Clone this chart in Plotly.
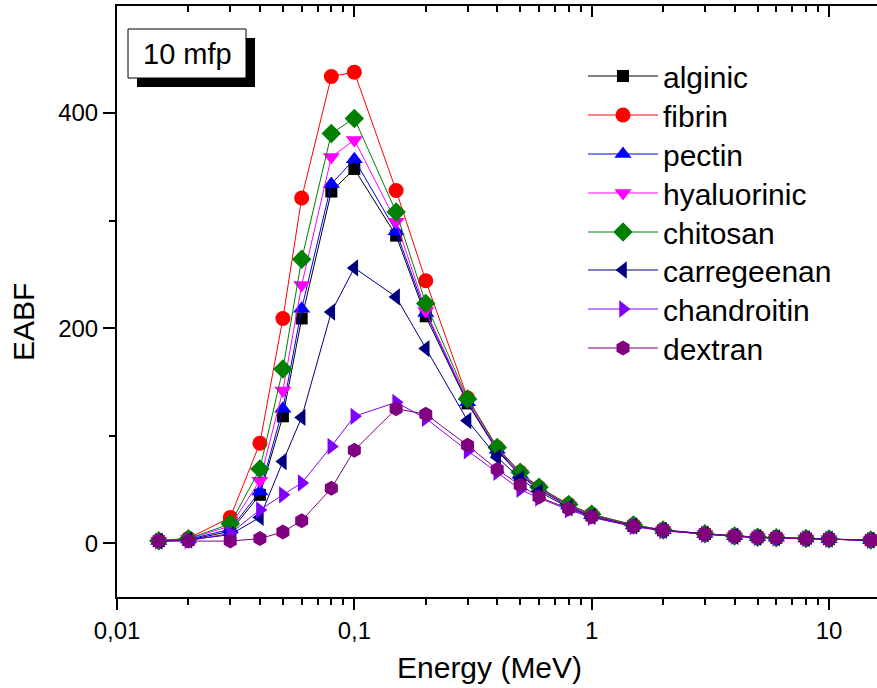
import plotly.graph_objects as go

energy = [0.015, 0.02, 0.03, 0.04, 0.05, 0.06, 0.08, 0.1, 0.15, 0.2, 0.3, 0.4, 0.5,
          0.6, 0.8, 1, 1.5, 2, 3, 4, 5, 6, 8, 10, 15]

alginic = [2, 3, 11, 45, 118, 209, 327, 348, 286, 211, 130, 86, 63, 50, 34, 26, 16, 12,
           8.5, 6.5, 5.5, 5, 4.3, 3.8, 2.8]
fibrin = [2.5, 4.5, 24, 93, 209, 321, 434, 438, 328, 244, 135, 89, 66, 52, 36, 27, 17,
          12.5, 8.8, 6.8, 5.7, 5.1, 4.4, 3.9, 2.9]
pectin = [2, 3.5, 13, 48, 125, 218, 334, 357, 290, 214, 131, 87, 64, 51, 35, 26, 16.5,
          12, 8.5, 6.6, 5.5, 5, 4.3, 3.8, 2.8]
hyaluorinic = [2.2, 4, 16, 58, 142, 240, 359, 375, 299, 216, 132, 88, 65, 51, 35, 26,
               16.5, 12, 8.6, 6.6, 5.5, 5, 4.3, 3.8, 2.8]
chitosan = [2.3, 4.2, 18, 69, 162, 264, 381, 395, 308, 223, 134, 89, 66, 52, 36, 27, 17,
            12.3, 8.7, 6.7, 5.6, 5.1, 4.4, 3.9, 2.9]
carregeenan = [2, 3, 8, 24, 76, 117, 215, 256, 229, 181, 114, 80, 60, 48, 33, 25, 16, 12,
               8.5, 6.5, 5.5, 5, 4.3, 3.8, 2.8]
chandroitin = [2, 2.5, 9, 31, 45, 56, 90, 118, 131, 116, 86, 66, 50, 42, 31, 24, 15.5,
               11.5, 8.2, 6.3, 5.3, 4.8, 4.2, 3.7, 2.7]
dextran = [2, 2, 2, 4.3, 10.5, 21, 51, 86.5, 125, 120, 91, 68.5, 54, 43, 32, 24.5, 15.8,
           12, 8.4, 6.5, 5.3, 5, 4.3, 3.7, 2.8]

names = ["alginic", "fibrin", "pectin", "hyaluorinic", "chitosan", "carregeenan",
         "chandroitin", "dextran"]
series = [alginic, fibrin, pectin, hyaluorinic, chitosan, carregeenan, chandroitin, dextran]
colors = ["#000000", "#FF0000", "#0000FF", "#FF00FF", "#008000", "#000080", "#8000FF", "#800080"]
symbols = ["square", "circle", "triangle-up", "triangle-down", "diamond", "triangle-left",
           "triangle-right", "hexagon"]
sizes = [12, 15, 15, 15, 15, 15, 15, 15]

FONT = "Liberation Sans, Arial, sans-serif"

# pixel geometry of plot area
L, R, T, B = 117, 877, 6, 597
W, H = R - L, B - T


def px(xp):
    return (xp - L) / W


def py(yp):
    return (B - yp) / H


# legend rows (pixel centres)
legend_rows = [76, 115, 154, 193, 232, 270, 309, 348]

fig = go.Figure()
legend_layouts = {}
for i, (n, s, c, sym, sz) in enumerate(zip(names, series, colors, symbols, sizes)):
    lname = "legend" if i == 0 else f"legend{i + 1}"
    fig.add_trace(go.Scatter(
        x=energy, y=s, name=n, mode="lines+markers", legend=lname,
        line=dict(color=c, width=1),
        marker=dict(symbol=sym, size=sz, color=c, line=dict(width=0)),
    ))
    legend_layouts[lname] = dict(
        x=px(583), y=py(legend_rows[i]), xanchor="left", yanchor="middle",
        font=dict(size=30, family=FONT, color="black"), bgcolor="rgba(0,0,0,0)",
        itemwidth=70, borderwidth=0)

# invisible trace to hold the top axis
fig.add_trace(go.Scatter(x=[0.1], y=[0], xaxis="x2", showlegend=False,
                         mode="markers", marker=dict(opacity=0), hoverinfo="skip"))

xrange = [-2, -2 + W / 237.33]

fig.update_layout(
    width=877, height=688,
    margin=dict(l=L, r=877 - R, t=T, b=688 - B),
    paper_bgcolor="white", plot_bgcolor="white",
    separators=",.",
    font=dict(family=FONT, size=24, color="black"),
    showlegend=True,
    xaxis=dict(type="log", range=xrange, dtick=1, showgrid=False, zeroline=False,
               showline=True, linecolor="black", linewidth=2,
               ticks="outside", ticklen=11, tickwidth=2, tickcolor="black",
               minor=dict(ticks="outside", ticklen=6, tickwidth=2, tickcolor="black",
                          dtick="D1", showgrid=False),
               tickfont=dict(size=24)),
    xaxis2=dict(type="log", range=xrange, dtick=1, overlaying="x", side="top",
                anchor="y", showgrid=False, zeroline=False,
                showline=True, linecolor="black", linewidth=2,
                ticks="inside", ticklen=11, tickwidth=2, tickcolor="black",
                showticklabels=False,
                minor=dict(ticks="inside", ticklen=6, tickwidth=2, tickcolor="black",
                           dtick="D1", showgrid=False)),
    yaxis=dict(range=[-50, 499.5], dtick=200, tick0=0, showgrid=False, zeroline=False,
               showline=True, linecolor="black", linewidth=2,
               ticks="outside", ticklen=12, tickwidth=2, tickcolor="black",
               minor=dict(ticks="outside", ticklen=6, tickwidth=2, tickcolor="black",
                          dtick=100, showgrid=False),
               tickfont=dict(size=24)),
    **legend_layouts,
)

# axis titles
fig.add_annotation(text="Energy (MeV)", xref="paper", yref="paper",
                   x=px(489), y=py(667), xanchor="center", yanchor="middle",
                   showarrow=False, font=dict(size=30, family=FONT))
fig.add_annotation(text="EABF", xref="paper", yref="paper", textangle=-90,
                   x=px(23), y=py(322), xanchor="center", yanchor="middle",
                   showarrow=False, font=dict(size=30, family=FONT))

# "10 mfp" label box with shadow
fig.add_shape(type="rect", xref="paper", yref="paper",
              x0=px(137), x1=px(255), y0=py(87), y1=py(38),
              fillcolor="black", line=dict(width=0), layer="above")
fig.add_shape(type="rect", xref="paper", yref="paper",
              x0=px(128), x1=px(246), y0=py(78), y1=py(29),
              fillcolor="white", line=dict(color="black", width=1), layer="above")
fig.add_annotation(text="10 mfp", xref="paper", yref="paper",
                   x=px(187), y=py(54), xanchor="center", yanchor="middle",
                   showarrow=False, font=dict(size=29, family=FONT))

fig.write_html("out.html", config={"displayModeBar": False},
               post_script="document.body.style.margin='0px';")
